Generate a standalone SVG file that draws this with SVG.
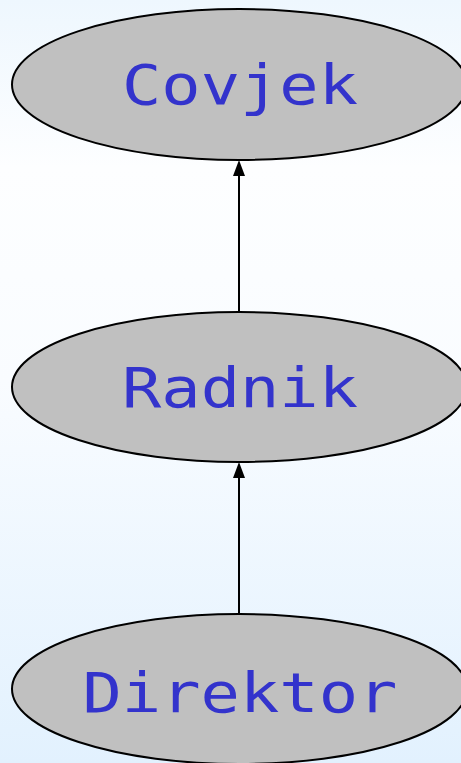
<svg xmlns="http://www.w3.org/2000/svg" width="461" height="763" viewBox="0 0 461 763">
<defs>
<linearGradient id="bg" x1="0" y1="0" x2="0" y2="1">
<stop offset="0" stop-color="#eef7fe"/>
<stop offset="0.22" stop-color="#fdfeff"/>
<stop offset="0.5" stop-color="#f9fcff"/>
<stop offset="1" stop-color="#e2f1fe"/>
</linearGradient>
<marker id="ah" markerWidth="12" markerHeight="16" refX="6" refY="0" orient="auto-start-reverse" markerUnits="userSpaceOnUse" viewBox="0 0 12 16">
<path d="M6,0 L12,16 L0,16 Z" fill="#000"/>
</marker>
</defs>
<style>
.node ellipse{fill:#c0c0c0;stroke:#000;stroke-width:2}
.node text{font-family:"DejaVu Sans Mono",monospace;font-size:55px;fill:#3333cc;text-anchor:middle}
.edge{stroke:#000;stroke-width:2;fill:none}
</style>
<rect width="461" height="763" fill="url(#bg)"/>
<g id="connectors">
<line class="edge" x1="239" y1="312" x2="239" y2="174"/>
<path d="M239,160 L245,176 L233,176 Z" fill="#000"/>
<line class="edge" x1="239" y1="614" x2="239" y2="476"/>
<path d="M239,462 L245,478 L233,478 Z" fill="#000"/>
</g>
<g id="covjek" class="node">
<ellipse cx="239.5" cy="84.5" rx="227.5" ry="75.5"/>
<text x="240" y="104" textLength="236" lengthAdjust="spacingAndGlyphs">Covjek</text>
</g>
<g id="radnik" class="node">
<ellipse cx="239.5" cy="387" rx="227.5" ry="75"/>
<text x="240" y="407" textLength="236" lengthAdjust="spacingAndGlyphs">Radnik</text>
</g>
<g id="direktor" class="node">
<ellipse cx="239.5" cy="689" rx="227.5" ry="75"/>
<text x="240" y="712" textLength="315" lengthAdjust="spacingAndGlyphs">Direktor</text>
</g>
</svg>
